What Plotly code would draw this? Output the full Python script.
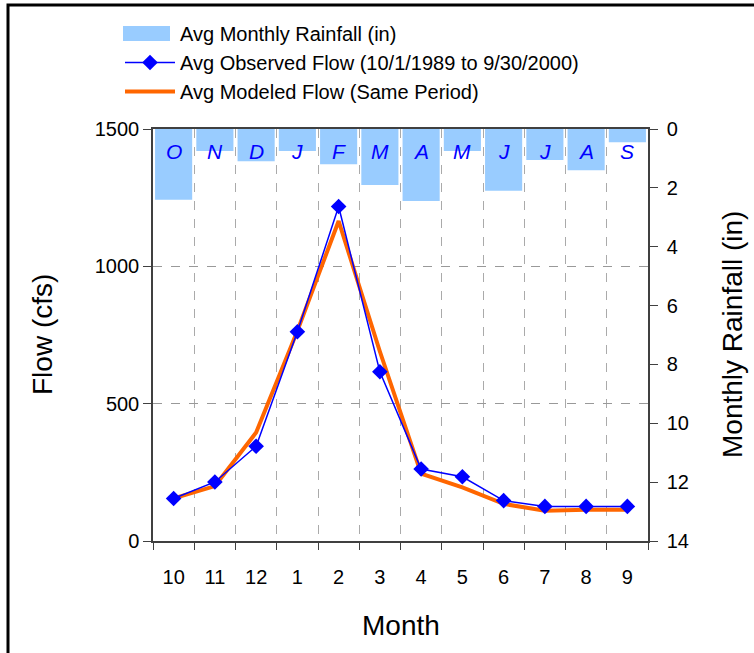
import plotly.graph_objects as go

# Monthly averages, water year order (Oct - Sep)
months = ["10", "11", "12", "1", "2", "3", "4", "5", "6", "7", "8", "9"]
month_letters = ["O", "N", "D", "J", "F", "M", "A", "M", "J", "J", "A", "S"]
rainfall_in = [2.4, 0.75, 1.1, 0.75, 1.2, 1.9, 2.45, 0.75, 2.1, 1.05, 1.4, 0.45]
observed_cfs = [155, 215, 345, 762, 1218, 616, 262, 234, 147, 126, 126, 126]
modeled_cfs = [155, 200, 395, 765, 1165, 690, 245, 195, 135, 110, 114, 114]

FONT = "Liberation Sans, Arial, sans-serif"
W, H = 754, 653
ML, MR, MT, MB = 153, 106, 129, 112
PW, PH = W - ML - MR, H - MT - MB
BAR_COLOR = "#99CCFF"


def px_x(px):
    return (px - ML) / PW


def px_y(py):
    return (H - MB - py) / PH


xpos = list(range(len(months)))

fig = go.Figure()

fig.add_trace(go.Bar(
    x=xpos, y=rainfall_in, base=0, yaxis="y2",
    name="Avg Monthly Rainfall (in)", legendrank=1,
    marker=dict(color=BAR_COLOR, line=dict(width=0)),
    width=0.9,
))
fig.add_trace(go.Scatter(
    x=xpos, y=modeled_cfs, mode="lines",
    name="Avg Modeled Flow (Same Period)", legendrank=3,
    line=dict(color="#FF6600", width=4),
))
fig.add_trace(go.Scatter(
    x=xpos, y=observed_cfs, mode="lines+markers",
    name="Avg Observed Flow (10/1/1989 to 9/30/2000)", legendrank=2,
    line=dict(color="#0000FF", width=1.5),
    marker=dict(symbol="diamond", size=12, color="#0000FF"),
))

annotations = [
    dict(x=i, y=0.75, xref="x", yref="y2", text="<i>%s</i>" % t, showarrow=False,
         font=dict(family=FONT, size=21, color="#0000FF"),
         xanchor="center", yanchor="middle")
    for i, t in zip(xpos, month_letters)
]
title_font = dict(family=FONT, size=28, color="black")
annotations += [
    dict(x=px_x(42), y=0.5, xref="paper", yref="paper", text="Flow (cfs)",
         textangle=-90, showarrow=False, xanchor="center", yanchor="middle",
         font=title_font),
    dict(x=px_x(732), y=0.5, xref="paper", yref="paper", text="Monthly Rainfall (in)",
         textangle=-90, showarrow=False, xanchor="center", yanchor="middle",
         font=title_font),
    dict(x=0.5, y=px_y(625), xref="paper", yref="paper", text="Month",
         showarrow=False, xanchor="center", yanchor="middle", font=title_font),
]

shapes = [
    # outer frame of the chart
    dict(type="rect", xref="paper", yref="paper",
         x0=px_x(8), x1=2.0, y0=-1.0, y1=px_y(5),
         line=dict(color="black", width=3), fillcolor="rgba(0,0,0,0)", layer="above"),
    # wide swatch for the rainfall legend entry
    dict(type="rect", xref="paper", yref="paper",
         x0=px_x(123), x1=px_x(170), y0=px_y(41), y1=px_y(26),
         line=dict(width=0), fillcolor=BAR_COLOR, layer="above"),
]

fig.update_layout(
    width=W, height=H, autosize=False,
    margin=dict(l=ML, r=MR, t=MT, b=MB, autoexpand=False),
    paper_bgcolor="white", plot_bgcolor="white",
    font=dict(family=FONT, size=20, color="black"),
    showlegend=True,
    legend=dict(
        x=px_x(120), y=px_y(14), xanchor="left", yanchor="top",
        font=dict(family=FONT, size=20, color="black"),
        bgcolor="rgba(0,0,0,0)", itemwidth=50, traceorder="normal",
        tracegroupgap=0,
    ),
    bargap=0.1,
    xaxis=dict(
        range=[-0.5, 11.5], tickvals=xpos, ticktext=months,
        ticks="", showgrid=False, zeroline=False, ticklabelstandoff=17,
        showline=True, linecolor="#404040", linewidth=1.5, mirror=True,
        tickfont=dict(family=FONT, size=20, color="black"),
        minor=dict(tick0=-0.5, dtick=1, ticks="outside", ticklen=7,
                   tickcolor="#404040", showgrid=True, gridcolor="#AAAAAA",
                   griddash="dash", gridwidth=1),
    ),
    yaxis=dict(
        range=[0, 1500], tickvals=[0, 500, 1000, 1500],
        ticks="outside", ticklen=8, tickcolor="#404040",
        showline=True, linecolor="#404040", linewidth=1.5,
        showgrid=True, gridcolor="#999999", griddash="dash", gridwidth=1,
        zeroline=False,
        tickfont=dict(family=FONT, size=20, color="black"),
    ),
    yaxis2=dict(
        range=[14, 0], tickvals=[0, 2, 4, 6, 8, 10, 12, 14],
        overlaying="y", side="right", ticklabelstandoff=5,
        ticks="outside", ticklen=8, tickcolor="#404040",
        showline=True, linecolor="#404040", linewidth=1.5,
        showgrid=False, zeroline=False,
        tickfont=dict(family=FONT, size=20, color="black"),
    ),
    annotations=annotations,
    shapes=shapes,
)

fig.write_html("out.html")
